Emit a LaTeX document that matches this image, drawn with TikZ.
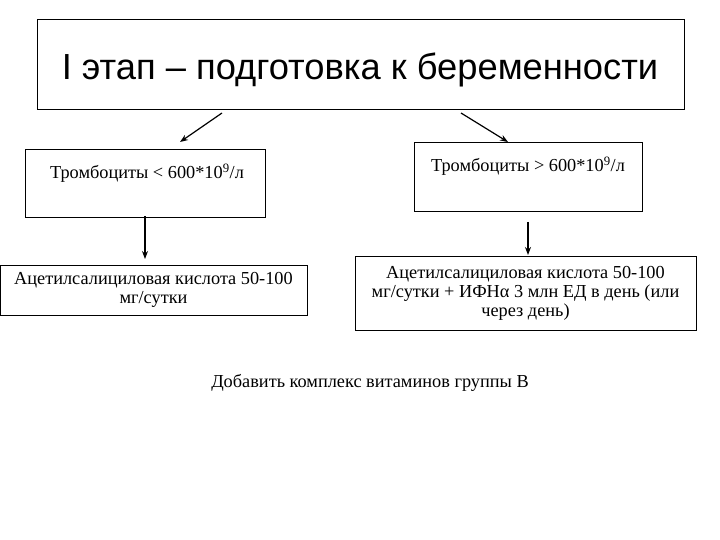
\documentclass[tikz,border=0pt]{standalone}
\usepackage{fontspec}
\setmainfont{Liberation Serif}
\newfontfamily\titlefont{Liberation Sans}
\usetikzlibrary{arrows.meta}
\begin{document}
\begin{tikzpicture}[x=1pt,y=-1pt,
  box/.style={draw,line width=1pt},
  txt/.style={font=\fontsize{18.3}{19}\selectfont,align=center,inner sep=0},
  arr/.style={-{Stealth[length=8pt,width=6pt]},line width=1.2pt}]
\useasboundingbox (0,0) rectangle (720,540);
\draw[box] (37,20) rectangle (684,110);
\node[font=\titlefont\fontsize{36.3}{40}\selectfont,inner sep=0] (title) at (360,70) {I этап – подготовка к беременности};
\draw[box] (25,150) rectangle (265,218);
\node[txt] (l1) at (147,173) {Тромбоциты < 600*10\textsuperscript{9}/л};
\draw[box] (414,143) rectangle (642,212);
\node[txt] (r1) at (528,166) {Тромбоциты > 600*10\textsuperscript{9}/л};
\draw[box] (0,265) rectangle (307,315);
\node[txt] (l2) at (153.5,290) {Ацетилсалициловая кислота 50-100\\мг/сутки};
\draw[box] (355,256) rectangle (696,330);
\node[txt] (r2) at (525.5,293) {Ацетилсалициловая кислота 50-100\\мг/сутки + ИФНα 3 млн ЕД в день (или\\через день)};
\node[txt] (b) at (370,383) {Добавить комплекс витаминов группы В};
\coordinate (a1s) at (222,113); \coordinate (a1e) at (180,142);
\coordinate (a2s) at (461,113); \coordinate (a2e) at (508,142);
\coordinate (a3s) at (145,216); \coordinate (a3e) at (145,259);
\coordinate (a4s) at (528,222); \coordinate (a4e) at (528,255);
\draw[arr] (a1s) -- (a1e);
\draw[arr] (a2s) -- (a2e);
\draw[arr] (a3s) -- (a3e);
\draw[arr] (a4s) -- (a4e);
\end{tikzpicture}
\end{document}
